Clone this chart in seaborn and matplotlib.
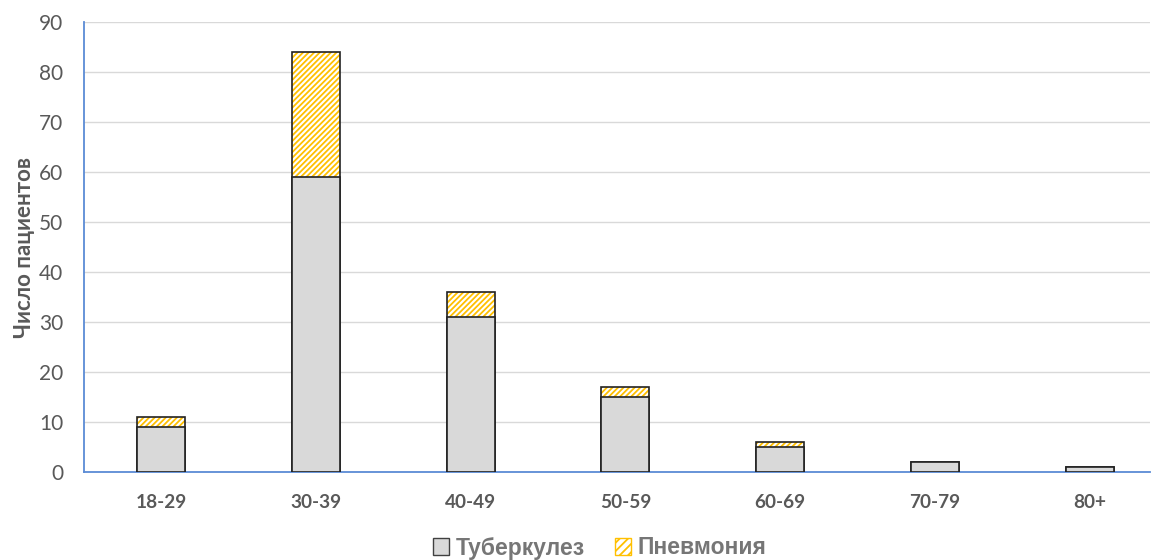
import matplotlib
matplotlib.use("Agg")
import matplotlib.pyplot as plt
from matplotlib.patches import Patch
import seaborn as sns
import pandas as pd

age_groups = ["18-29", "30-39", "40-49", "50-59", "60-69", "70-79", "80+"]
tuberculosis = [9, 59, 31, 15, 5, 2, 1]
pneumonia = [2, 25, 5, 2, 1, 0, 0]
y_ticks = [0, 10, 20, 30, 40, 50, 60, 70, 80, 90]

totals = [t + p for t, p in zip(tuberculosis, pneumonia)]
df = pd.DataFrame({"group": age_groups, "tb": tuberculosis, "total": totals})

sns.set_style("white")
plt.rcParams["font.family"] = ["Lato", "DejaVu Sans"]

TEXT = "#595959"
GRID = "#D9D9D9"
AXIS = "#5B8BD5"
GREY = "#D9D9D9"
GOLD = "#FFC000"

fig = plt.figure(figsize=(11.55, 5.6), dpi=100)
left, right = 84 / 1155, 1150 / 1155
bottom, top = 1 - 472 / 560, 1 - 22 / 560
ax = fig.add_axes([left, bottom, right - left, top - bottom])

width = 0.31
# stacked total (pneumonia on top), hatched
plt.rcParams["hatch.linewidth"] = 1.3
sns.barplot(data=df, x="group", y="total", ax=ax, color="white",
            width=width, saturation=1, zorder=2)
for p in ax.patches:
    p.set_hatch("//////")
    p.set_edgecolor(GOLD)
    p.set_linewidth(0)
n = len(ax.patches)
# black outline of the total bar
sns.barplot(data=df, x="group", y="total", ax=ax, fill=False,
            width=width, zorder=3)
for p in ax.patches[n:]:
    p.set_edgecolor("#222222")
    p.set_linewidth(1.2)
    p.set_facecolor("none")
m = len(ax.patches)
# tuberculosis part
sns.barplot(data=df, x="group", y="tb", ax=ax, color=GREY,
            width=width, saturation=1, zorder=4)
for p in ax.patches[m:]:
    p.set_edgecolor("#222222")
    p.set_linewidth(1.2)

ax.set_xlim(-0.5, -0.5 + (1150 - 84) / 154.7)
ax.set_ylim(0, 90)
ax.set_yticks(y_ticks)
ax.yaxis.grid(True, color=GRID, linewidth=1, zorder=0)
ax.set_axisbelow(True)
for s in ["top", "right"]:
    ax.spines[s].set_visible(False)
for s in ["left", "bottom"]:
    ax.spines[s].set_color(AXIS)
    ax.spines[s].set_linewidth(1.3)

ax.tick_params(axis="y", length=0, labelsize=15, labelcolor=TEXT, pad=15)
ax.tick_params(axis="x", length=0, labelsize=13.7, labelcolor=TEXT, pad=16)
for lbl in ax.get_xticklabels():
    lbl.set_fontweight("bold")

ax.set_xlabel("")
ax.set_ylabel("Число пациентов", fontsize=16, fontweight="bold", color=TEXT, labelpad=3)

handles = [
    Patch(facecolor=GREY, edgecolor="#404040", linewidth=1, label="Туберкулез"),
    Patch(facecolor="white", edgecolor=GOLD, hatch="////", linewidth=1, label="Пневмония"),
]
leg = fig.legend(handles=handles, loc="center", bbox_to_anchor=(600 / 1155, 1 - 548 / 560),
                 ncol=2, frameon=False, handlelength=0.7, handleheight=0.7,
                 handletextpad=0.3, columnspacing=1.3,
                 prop={"family": "Liberation Sans", "weight": "bold", "size": 16.5})
for t in leg.get_texts():
    t.set_color("#767676")
leg.legend_handles[1].set_edgecolor(GOLD)

fig.savefig("out.png", dpi=100)
